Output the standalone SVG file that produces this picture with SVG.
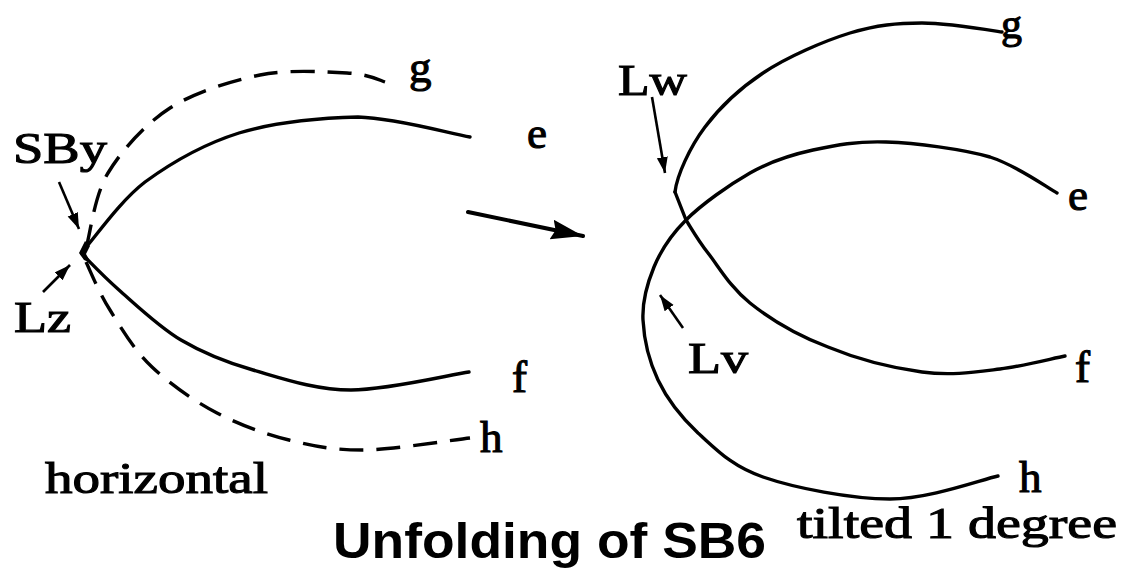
<svg xmlns="http://www.w3.org/2000/svg" width="1129" height="570" viewBox="0 0 1129 570">
<defs>
<style>
.c{fill:none;stroke:#000;stroke-width:3.4;stroke-linecap:round;stroke-linejoin:round}
.d{fill:none;stroke:#000;stroke-width:3.4;stroke-dasharray:24 13}
.a{fill:none;stroke:#000;stroke-width:2.6}
.t{font-family:"Liberation Serif","Times New Roman",serif;font-size:45px;fill:#000;stroke:#000;stroke-width:1.1}
.b{font-family:"Liberation Sans",Arial,sans-serif;font-weight:bold;font-size:50px;fill:#000}
</style>
<marker id="ah" markerUnits="userSpaceOnUse" markerWidth="17" markerHeight="12" refX="16" refY="5.5" orient="auto">
<path d="M0,0 L16,5.5 L0,11 Z" fill="#000"/>
</marker>
<marker id="ahbig" markerUnits="userSpaceOnUse" markerWidth="34" markerHeight="22" refX="32" refY="10" orient="auto">
<path d="M0,0 L32,10 L0,20 L4,10 Z" fill="#000"/>
</marker>
</defs>
<rect width="1129" height="570" fill="#fff"/>

<g id="left-curves">
<path class="c" d="M82,252 C94,239 119,202 145,182 C171,163 204,144 239,133 C275,122 320,118 358,117 C397,118 451,134 470,137"/>
<path class="c" d="M82,254 C90,262 103,276 119,290 C135,304 159,327 181,340 C203,353 225,362 253,370 C281,378 315,390 351,390 C387,390 449,375 469,372"/>
<path class="d" d="M86,248 C90,236 94,196 108,173 C122,150 145,124 170,108 C195,92 231,81 260,75 C290,69 326,72 347,73 C368,74 379,80 385,82"/>
<path class="d" d="M86,262 C90,270 99,293 110,310 C121,328 134,350 152,367 C170,384 194,401 217,413 C240,425 265,434 289,440 C313,446 332,450 362,450 C392,450 452,440 470,438"/>
<path d="M85,241 L90,246 L86,254 L91,263 L84,260 L79,253 Z" fill="#000"/>
</g>

<g id="right-curves">
<path class="c" d="M675,192 C677,175 690,147 705,127 C720,107 739,89 763,73 C787,57 824,41 850,33 C877,25 897,23 922,23 C947,23 989,30 1002,32"/>
<path class="c" d="M675,192 L686,220 C690,226 697,239 708,253 C719,267 730,287 750,303 C770,319 799,336 828,347 C857,359 893,368 922,372 C951,376 976,372 1000,369 C1024,366 1054,358 1065,356"/>
<path class="c" d="M1057,193 C1046,187 1018,166 990,157 C962,149 916,143 886,142 C857,141 836,145 813,150 C790,155 771,161 750,173 C729,185 702,204 686,220 C670,236 661,250 654,267 C647,284 642,301 643,320 C644,339 649,361 658,380 C667,399 681,417 698,433 C716,449 731,466 763,477 C795,488 851,499 890,499 C929,499 980,480 998,476"/>
</g>

<g id="connectors">
<line class="a" x1="59" y1="182" x2="79" y2="229" marker-end="url(#ah)"/>
<line class="a" x1="43" y1="292" x2="70" y2="265" marker-end="url(#ah)"/>
<line class="a" x1="652" y1="97" x2="665" y2="173" marker-end="url(#ah)"/>
<line class="a" x1="683" y1="328" x2="660" y2="295" marker-end="url(#ah)"/>
<line x1="468" y1="212" x2="583" y2="236" stroke="#000" stroke-width="4" stroke-linecap="round" marker-end="url(#ahbig)"/>
</g>

<g id="labels">
<text class="t" x="13" y="163" textLength="94" lengthAdjust="spacingAndGlyphs">SBy</text>
<text class="t" x="14" y="332" textLength="57" lengthAdjust="spacingAndGlyphs">Lz</text>
<text class="t" x="409" y="82">g</text>
<text class="t" x="527" y="148">e</text>
<text class="t" x="512" y="392">f</text>
<text class="t" x="480" y="452">h</text>
<text class="t" x="45" y="493" textLength="223" lengthAdjust="spacingAndGlyphs">horizontal</text>
<text class="t" x="618" y="95" textLength="69" lengthAdjust="spacingAndGlyphs">Lw</text>
<text class="t" x="688" y="373" textLength="60" lengthAdjust="spacingAndGlyphs">Lv</text>
<text class="t" x="1001" y="38" style="font-size:42px">g</text>
<text class="t" x="1068" y="210">e</text>
<text class="t" x="1075" y="382">f</text>
<text class="t" x="1019" y="492">h</text>
<text class="t" x="797" y="538" textLength="320" lengthAdjust="spacingAndGlyphs">tilted 1 degree</text>
<text class="b" x="333" y="558" textLength="433" lengthAdjust="spacingAndGlyphs">Unfolding of SB6</text>
</g>
</svg>
